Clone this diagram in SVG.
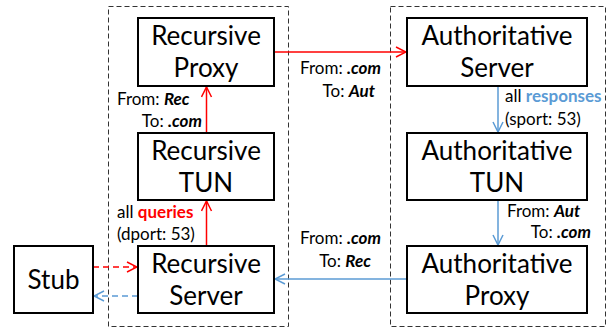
<svg xmlns="http://www.w3.org/2000/svg" width="613" height="331" viewBox="0 0 613 331">
<style>
.grp{fill:none;stroke:#333;stroke-width:1;stroke-dasharray:5,3}
.box{fill:#fff;stroke:#000;stroke-width:2}
.bt{font-family:Lato,"Open Sans",sans-serif;font-size:26px;text-anchor:middle;fill:#000}
.lb{font-family:Lato,"Open Sans",sans-serif;font-size:17px;fill:#000}
.b{font-weight:bold;font-style:italic}
.r{stroke:#f00;stroke-width:1.5;fill:none}
.u{stroke:#5b9bd5;stroke-width:1.5;fill:none}
.d{stroke-dasharray:6,4}
</style>
<defs>
<marker id="ar" viewBox="0 0 12 12" refX="11" refY="6" markerWidth="12" markerHeight="12" markerUnits="userSpaceOnUse" orient="auto"><path d="M1,1 L11,6 L1,11" fill="none" stroke="#f00" stroke-width="1.5"/></marker>
<marker id="au" viewBox="0 0 12 12" refX="11" refY="6" markerWidth="12" markerHeight="12" markerUnits="userSpaceOnUse" orient="auto"><path d="M1,1 L11,6 L1,11" fill="none" stroke="#5b9bd5" stroke-width="1.5"/></marker>
</defs>
<rect class="grp" x="108.5" y="6.5" width="180" height="320"/>
<rect class="grp" x="390.5" y="6.5" width="215" height="320"/>
<g id="connectors">
<line class="r" x1="274" y1="52" x2="406" y2="52" marker-end="url(#ar)"/>
<line class="r" x1="206.5" y1="133" x2="206.5" y2="87" marker-end="url(#ar)"/>
<line class="r" x1="206.5" y1="246" x2="206.5" y2="201" marker-end="url(#ar)"/>
<line class="r d" x1="93" y1="267" x2="137" y2="267" marker-end="url(#ar)"/>
<line class="u d" x1="138" y1="296" x2="94" y2="296" marker-end="url(#au)"/>
<line class="u" x1="498" y1="86" x2="498" y2="132" marker-end="url(#au)"/>
<line class="u" x1="498" y1="200" x2="498" y2="245" marker-end="url(#au)"/>
<line class="u" x1="407" y1="279" x2="275" y2="279" marker-end="url(#au)"/>
<text class="lb" x="381" y="74" text-anchor="end">From: <tspan class="b">.com</tspan></text>
<text class="lb" x="375" y="97" text-anchor="end">To:  <tspan class="b">Aut</tspan></text>
<text class="lb" x="117" y="105">From: <tspan class="b">Rec</tspan></text>
<text class="lb" x="202" y="127" text-anchor="end">To: <tspan class="b">.com</tspan></text>
<text class="lb" x="117" y="218">all <tspan font-weight="bold" fill="#f00">queries</tspan></text>
<text class="lb" x="117" y="240">(dport: 53)</text>
<text class="lb" x="505" y="102">all <tspan font-weight="bold" fill="#5b9bd5">responses</tspan></text>
<text class="lb" x="505" y="125">(sport: 53)</text>
<text class="lb" x="507" y="217">From: <tspan class="b">Aut</tspan></text>
<text class="lb" x="591" y="238" text-anchor="end">To: <tspan class="b">.com</tspan></text>
<text class="lb" x="381" y="244" text-anchor="end">From: <tspan class="b">.com</tspan></text>
<text class="lb" x="371" y="267" text-anchor="end">To: <tspan class="b">Rec</tspan></text>
</g>
<g id="rec-proxy"><rect class="box" x="138" y="18" width="136" height="68"/><text class="bt" x="206" y="45">Recursive</text><text class="bt" x="206" y="77">Proxy</text></g>
<g id="rec-tun"><rect class="box" x="138" y="133" width="136" height="67"/><text class="bt" x="206" y="160">Recursive</text><text class="bt" x="206" y="192">TUN</text></g>
<g id="rec-server"><rect class="box" x="138" y="246" width="136" height="67"/><text class="bt" x="206" y="273">Recursive</text><text class="bt" x="206" y="305">Server</text></g>
<g id="stub"><rect class="box" x="14" y="246" width="79" height="67"/><text class="bt" x="53.5" y="289">Stub</text></g>
<g id="auth-server"><rect class="box" x="407" y="18" width="180" height="68"/><text class="bt" x="497" y="45">Authoritative</text><text class="bt" x="497" y="77">Server</text></g>
<g id="auth-tun"><rect class="box" x="407" y="133" width="180" height="67"/><text class="bt" x="497" y="160">Authoritative</text><text class="bt" x="497" y="192">TUN</text></g>
<g id="auth-proxy"><rect class="box" x="407" y="246" width="180" height="67"/><text class="bt" x="497" y="273">Authoritative</text><text class="bt" x="497" y="305">Proxy</text></g>
</svg>
